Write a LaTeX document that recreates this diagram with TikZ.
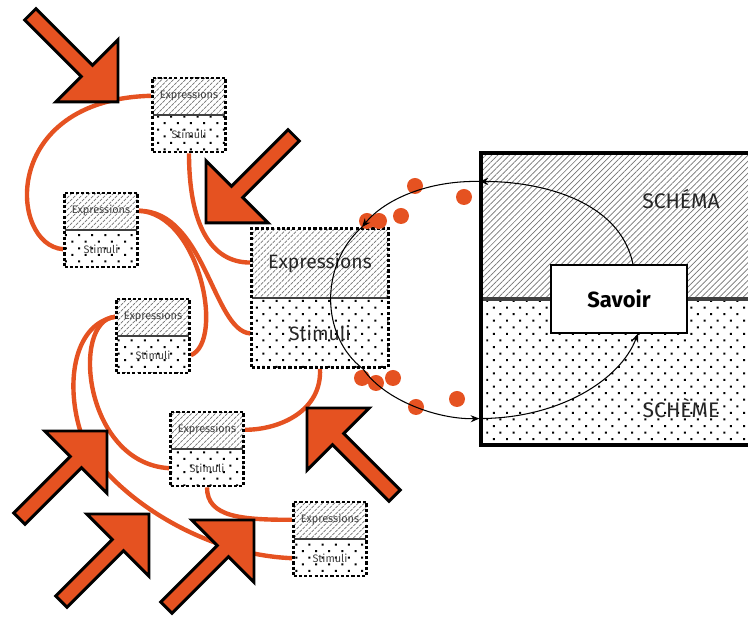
\documentclass[tikz,border=0pt]{standalone}
\usepackage{fontspec}
\setmainfont{Fira Sans}
\usetikzlibrary{patterns.meta,calc,arrows.meta,backgrounds}
\definecolor{rouille}{RGB}{229,82,33}
\tikzset{
  hatch/.style={pattern={Lines[angle=45,distance=2.4pt,line width=0.4pt]},pattern color=black!55},
  pois/.style={pattern={Dots[angle=45,distance=5.3pt,radius=0.8pt]},pattern color=black},
  halves/.style={path picture={
    \fill[hatch] (path picture bounding box.north west) rectangle (path picture bounding box.east);
    \fill[pois] (path picture bounding box.west) rectangle (path picture bounding box.south east);
    \draw[solid,black!75,line width=#1] (path picture bounding box.west) -- (path picture bounding box.east);}},
  halves/.default=0.6pt,
  carton/.style={halves,draw=black,line width=1.6pt,dash pattern=on 1.8pt off 1.2pt,minimum width=1.46cm,minimum height=1.48cm,inner sep=0pt},
  petit/.style={font=\fontsize{6.2}{7}\selectfont,text=black!75,inner sep=0.5pt},
  moyen/.style={font=\fontsize{11}{13}\selectfont,text=black!85,inner sep=0.5pt},
  grand/.style={font=\fontsize{12}{14}\selectfont,text=black!85},
  lien/.style={rouille,line width=2.5pt},
  trait/.style={black,line width=0.6pt},
  pointe/.style={-{Stealth[length=5pt,width=4pt]}},
  fleche/.pic={\filldraw[fill=rouille,draw=black,line width=1.7pt,line join=miter] (0,0) -- (-44,44) -- (-44,8) -- (-124,8) -- (-124,-8) -- (-44,-8) -- (-44,-44) -- cycle;}
}
\begin{document}
\begin{tikzpicture}[x=0.02cm,y=-0.02cm]
\useasboundingbox (0,0) rectangle (748,617);
\clip (0,0) rectangle (748,617);
% the big block, schema over scheme
\node[halves=1.8pt,draw=black,line width=1.8pt,minimum width=5.6cm,minimum height=5.84cm,inner sep=0pt] (G) at (621,299) {};
\node[draw=black,fill=white,line width=0.6pt,minimum width=2.72cm,minimum height=1.36cm,font=\fontsize{12.5}{14}\selectfont\bfseries] (Sav) at (619,299) {Savoir};
\node[grand] (schema) at (681,199) {SCHÉMA};
\node[grand] (scheme) at (681,408) {SCHÈME};
% the small boxes
\node[carton] (A) at (189,115) {};
\node[petit] (Aexp) at ($(A)!.5!(A.north)$) {Expressions};
\node[petit] (Asti) at ($(A)!.5!(A.south)$) {Stimuli};
\node[carton] (B) at (101,230) {};
\node[petit] (Bexp) at ($(B)!.5!(B.north)$) {Expressions};
\node[petit] (Bsti) at ($(B)!.5!(B.south)$) {Stimuli};
\node[carton] (C) at (153,336) {};
\node[petit] (Cexp) at ($(C)!.5!(C.north)$) {Expressions};
\node[petit] (Csti) at ($(C)!.5!(C.south)$) {Stimuli};
\node[carton] (D) at (207,449) {};
\node[petit] (Dexp) at ($(D)!.5!(D.north)$) {Expressions};
\node[petit] (Dsti) at ($(D)!.5!(D.south)$) {Stimuli};
\node[carton] (E) at (330,539) {};
\node[petit] (Eexp) at ($(E)!.5!(E.north)$) {Expressions};
\node[petit] (Esti) at ($(E)!.5!(E.south)$) {Stimuli};
% the large box
\node[carton,minimum width=2.74cm,minimum height=2.78cm] (F) at (320,298) {};
\node[moyen] (Fexp) at ($(F)!.5!(F.north)$) {Expressions};
\node[moyen] (Fsti) at ($(F)!.5!(F.south)$) {Stimuli};
% orange links, behind the boxes
\begin{scope}[on background layer]
\draw[lien] (A.west |- Aexp) .. controls +(-152,4) and +(-54,-4) .. (B.west |- Bsti);
\draw[lien] (A.south) .. controls +(0,70) and +(-40,0) .. (F.west |- Fexp);
\draw[lien] (B.east |- Bexp) .. controls +(61,3) and +(34,-14) .. (C.east |- Csti);
\draw[lien] (B.east |- Bexp) .. controls +(66,0) and +(-37,-3) .. (F.west |- Fsti);
\draw[lien] (C.west |- Cexp) .. controls +(-40,7) and +(-15,-50) .. (80,430) .. controls +(15,50) and +(-103,-4) .. (E.west |- Esti);
\draw[lien] (C.west |- Cexp) .. controls +(-45,4) and +(-85,-5) .. (D.west |- Dsti);
\draw[lien] (F.south) .. controls +(2,42) and +(35,0) .. (D.east |- Dexp);
\draw[lien] (D.south) .. controls +(0,30) and +(-50,0) .. (E.west |- Eexp);
\end{scope}
% the big arrows
\pic[rotate=-45] at (118,102) {fleche};
\pic[rotate=-135] at (206,223) {fleche};
\pic[rotate=135] at (307,408) {fleche};
\pic[rotate=45] at (107,431) {fleche};
\pic[rotate=45] at (149,514) {fleche};
\pic[rotate=45] at (254,520) {fleche};
% orange dots
\foreach \p in {(415,186),(464,197),(367,221),(379,221),(401,216),(362,378),(376,383),(393,378),(416,407),(457,399)}
  \fill[rouille] \p circle (8);
% the loop through the large box
\draw[trait,pointe] ($(Sav.north)+(14,0)$) .. controls +(-13,-65) and +(59,0) .. ($(G.north west)+(0,30)$);
\draw[trait,pointe] ($(G.north west)+(0,30)$) .. controls +(-51,-1) and +(23,-28) .. ($(F.north)+(42,0)$);
\draw[trait] ($(F.north)+(42,0)$) .. controls +(-42,37) and +(-43,-33) .. ($(F.south)+(43,0)$);
\draw[trait,pointe] ($(F.south)+(43,0)$) .. controls +(22,32) and +(-41,1) .. ($(G.south west)+(0,-28)$);
\draw[trait,pointe] ($(G.south west)+(0,-28)$) .. controls +(79,0) and +(-18,47) .. ($(Sav.south)+(19,0)$);
\end{tikzpicture}
\end{document}
